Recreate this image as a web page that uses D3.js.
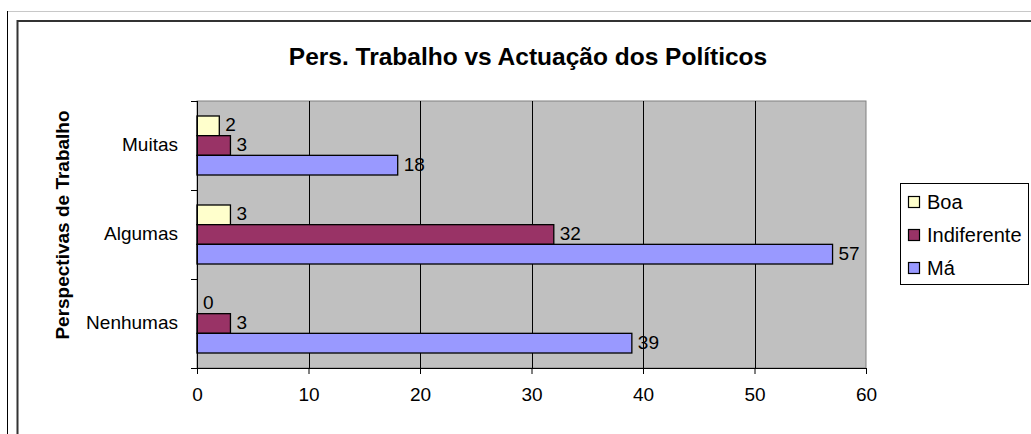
<!DOCTYPE html>
<html>
<head>
<meta charset="utf-8">
<script src="https://cdn.jsdelivr.net/npm/d3@7"></script>
<style>
  html, body { margin: 0; padding: 0; background: #fff; }
  svg { display: block; font-family: 'Liberation Sans', Arial, sans-serif; }
</style>
</head>
<body>
<svg id="chart" width="1031" height="434"></svg>
<script>
// chart data
const title = 'Pers. Trabalho vs Actuação dos Políticos';
const yTitle = 'Perspectivas de Trabalho';
const categories = ['Muitas', 'Algumas', 'Nenhumas'];
const seriesNames = ['Boa', 'Indiferente', 'Má'];
const boa = [2, 3, 0];
const indiferente = [3, 32, 3];
const ma = [18, 57, 39];
const xTicks = [0, 10, 20, 30, 40, 50, 60];

const seriesValues = [boa, indiferente, ma];
const colors = ['#FFFFCC', '#993366', '#9999FF'];

const svg = d3.select('#chart');

// page frame lines
svg.append('line')
  .attr('x1', 7).attr('x2', 1031).attr('y1', 11.5).attr('y2', 11.5)
  .attr('stroke', '#c8c8c8').attr('stroke-width', 1);
svg.append('line')
  .attr('x1', 7.5).attr('x2', 7.5).attr('y1', 11).attr('y2', 434)
  .attr('stroke', '#000').attr('stroke-width', 1);

// chart border
svg.append('rect')
  .attr('x', 17.5).attr('y', 21)
  .attr('width', 1040).attr('height', 440)
  .attr('fill', '#fff')
  .attr('stroke', '#333').attr('stroke-width', 2);

// plot area
const plot = {left: 197, right: 866, top: 101, bottom: 368};

const x = d3.scaleLinear()
  .domain([0, 60])
  .range([plot.left, plot.right]);

const y = d3.scaleBand()
  .domain(categories)
  .range([plot.top, plot.bottom])
  .paddingInner(0.337)
  .paddingOuter(0.337 / 2);

const ySub = d3.scaleBand()
  .domain(seriesNames)
  .range([0, y.bandwidth()]);

svg.append('rect')
  .attr('x', plot.left).attr('y', plot.top)
  .attr('width', plot.right - plot.left).attr('height', plot.bottom - plot.top)
  .attr('fill', '#C0C0C0')
  .attr('stroke', '#808080').attr('stroke-width', 1);

// gridlines
svg.append('g')
  .selectAll('line')
  .data(xTicks.slice(1, -1))
  .join('line')
  .attr('x1', d => Math.round(x(d)) + 0.5)
  .attr('x2', d => Math.round(x(d)) + 0.5)
  .attr('y1', plot.top)
  .attr('y2', plot.bottom)
  .attr('stroke', '#000').attr('stroke-width', 1);

// bars
const rows = [];
categories.forEach((c, i) => {
  seriesNames.forEach((s, j) => {
    rows.push({cat: c, series: s, value: seriesValues[j][i], color: colors[j]});
  });
});

svg.append('g')
  .selectAll('rect')
  .data(rows.filter(d => d.value > 0))
  .join('rect')
  .attr('x', x(0))
  .attr('y', d => y(d.cat) + ySub(d.series))
  .attr('width', d => x(d.value) - x(0))
  .attr('height', ySub.bandwidth())
  .attr('fill', d => d.color)
  .attr('stroke', '#000').attr('stroke-width', 1.3);

// value labels
svg.append('g')
  .selectAll('text')
  .data(rows)
  .join('text')
  .attr('x', d => x(d.value) + 6)
  .attr('y', d => y(d.cat) + ySub(d.series) + ySub.bandwidth() / 2 - 1)
  .attr('dominant-baseline', 'central')
  .attr('font-size', 19)
  .attr('fill', '#000')
  .text(d => d.value);

// x axis
const xAxis = svg.append('g')
  .attr('transform', `translate(0,${plot.bottom})`)
  .call(d3.axisBottom(x).tickValues(xTicks).tickSize(6).tickPadding(14).tickSizeOuter(0));
xAxis.select('.domain')
  .attr('d', `M${plot.left - 6},0.5H${plot.right}`)
  .attr('stroke', '#000');
xAxis.selectAll('.tick line').attr('stroke', '#000');
xAxis.selectAll('.tick text')
  .attr('font-size', 19)
  .attr('font-family', "'Liberation Sans', Arial, sans-serif")
  .attr('fill', '#000');

// y axis: ticks sit at category boundaries
const boundaries = categories.map(c => y(c) - y.step() * y.paddingInner() / 2)
  .concat([plot.bottom]);
const yAxis = svg.append('g');
yAxis.append('line')
  .attr('x1', plot.left + 0.5).attr('x2', plot.left + 0.5)
  .attr('y1', plot.top).attr('y2', plot.bottom)
  .attr('stroke', '#000');
yAxis.selectAll('.tickb')
  .data(boundaries)
  .join('line')
  .attr('class', 'tickb')
  .attr('x1', plot.left - 6).attr('x2', plot.left)
  .attr('y1', d => Math.round(d) + 0.5)
  .attr('y2', d => Math.round(d) + 0.5)
  .attr('stroke', '#000');
yAxis.selectAll('text')
  .data(categories)
  .join('text')
  .attr('x', 178)
  .attr('y', d => y(d) + y.bandwidth() / 2 - 1)
  .attr('text-anchor', 'end')
  .attr('dominant-baseline', 'central')
  .attr('font-size', 19)
  .text(d => d);

// titles
svg.append('text')
  .attr('x', 528).attr('y', 65)
  .attr('text-anchor', 'middle')
  .attr('font-size', 24.5)
  .attr('font-weight', 'bold')
  .text(title);

svg.append('text')
  .attr('transform', 'translate(69,225) rotate(-90)')
  .attr('text-anchor', 'middle')
  .attr('font-size', 19)
  .attr('font-weight', 'bold')
  .text(yTitle);

// legend
const legend = svg.append('g');
legend.append('rect')
  .attr('x', 900.5).attr('y', 183.5)
  .attr('width', 128).attr('height', 101)
  .attr('fill', '#fff')
  .attr('stroke', '#000').attr('stroke-width', 1);
const items = legend.selectAll('g.item')
  .data(seriesNames)
  .join('g')
  .attr('class', 'item')
  .attr('transform', (d, i) => `translate(908,${202 + i * 33})`);
items.append('rect')
  .attr('x', 0.5).attr('y', -5.5)
  .attr('width', 11).attr('height', 11)
  .attr('fill', (d, i) => colors[i])
  .attr('stroke', '#000').attr('stroke-width', 1.2);
items.append('text')
  .attr('x', 19).attr('y', 0)
  .attr('dominant-baseline', 'central')
  .attr('font-size', 20)
  .text(d => d);
</script>
</body>
</html>
